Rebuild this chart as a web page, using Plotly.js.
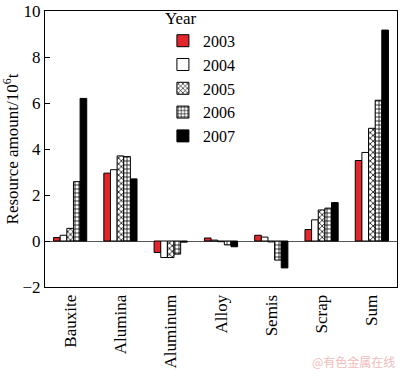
<!DOCTYPE html>
<html><head><meta charset="utf-8">
<script src="https://cdn.plot.ly/plotly-3.0.1.min.js"></script>
<style>body{margin:0;padding:0;background:#fff}#chart{width:400px;height:374px}</style>
</head><body><div id="chart"></div>
<script>
const categories = ["Bauxite","Alumina","Aluminum","Alloy","Semis","Scrap","Sum"];
const years = ["2003","2004","2005","2006","2007"];
const v2003 = [0.15, 2.95, -0.50, 0.13, 0.25, 0.50, 3.50];
const v2004 = [0.25, 3.10, -0.72, 0.04, 0.17, 0.92, 3.85];
const v2005 = [0.55, 3.70, -0.72, -0.03, -0.04, 1.35, 4.90];
const v2006 = [2.58, 3.67, -0.57, -0.17, -0.83, 1.43, 6.12];
const v2007 = [6.20, 2.70, -0.05, -0.25, -1.17, 1.67, 9.17];
const yTicks = [-2, 0, 2, 4, 6, 8, 10];
const seriesValues = [v2003, v2004, v2005, v2006, v2007];
const fills = ["#e3262b", "#ffffff", "#ffffff", "#ffffff", "#000000"];
const patterns = ["", "", "x", "+", ""];

const traces = years.map((y, i) => ({
  type: "bar",
  name: y,
  x: categories,
  y: seriesValues[i],
  marker: {
    color: fills[i],
    line: {color: "#000", width: 1},
    pattern: patterns[i] ? {shape: patterns[i], fgcolor: "#000", bgcolor: "#fff", size: 4, solidity: 0.35} : undefined
  }
}));

const font = "Liberation Serif";
const layout = {
  width: 400, height: 374,
  margin: {l: 45, r: 3, t: 10, b: 87},
  paper_bgcolor: "#fff", plot_bgcolor: "#fff",
  barmode: "group", bargap: 0.34, bargroupgap: 0,
  font: {family: font, size: 17, color: "#000"},
  showlegend: true,
  legend: {
    x: 0.335, y: 1.03, xanchor: "left", yanchor: "top",
    bgcolor: "rgba(0,0,0,0)",
    title: {text: "Year", font: {family: font, size: 17}},
    font: {family: font, size: 16},
    tracegroupgap: 0, itemwidth: 30
  },
  xaxis: {
    showline: true, linecolor: "#000", linewidth: 1, mirror: true,
    ticks: "", tickangle: -90, tickfont: {family: font, size: 17},
    showgrid: false
  },
  yaxis: {
    range: [-2, 10], tickvals: yTicks, ticktext: yTicks.map(v => v < 0 ? "\u2212" + Math.abs(v) : String(v)),
    ticklabeloverflow: "allow",
    showline: true, linecolor: "#000", linewidth: 1, mirror: true,
    ticks: "inside", ticklen: 5, tickcolor: "#000",
    showgrid: false, zeroline: true, zerolinecolor: "#555", zerolinewidth: 1,
    tickfont: {family: font, size: 17},
    title: {text: "Resource amount/10<sup>6</sup>t", font: {family: font, size: 17}, standoff: 4}
  },
  annotations: [{
    text: "@有色金属在线", xref: "paper", yref: "paper",
    x: 1.0, y: -0.27, xanchor: "right", yanchor: "middle", showarrow: false,
    font: {family: "Noto Sans CJK SC", size: 12, color: "#f2bcbc"}
  }]
};
Plotly.newPlot("chart", traces, layout, {staticPlot: true});
</script></body></html>
